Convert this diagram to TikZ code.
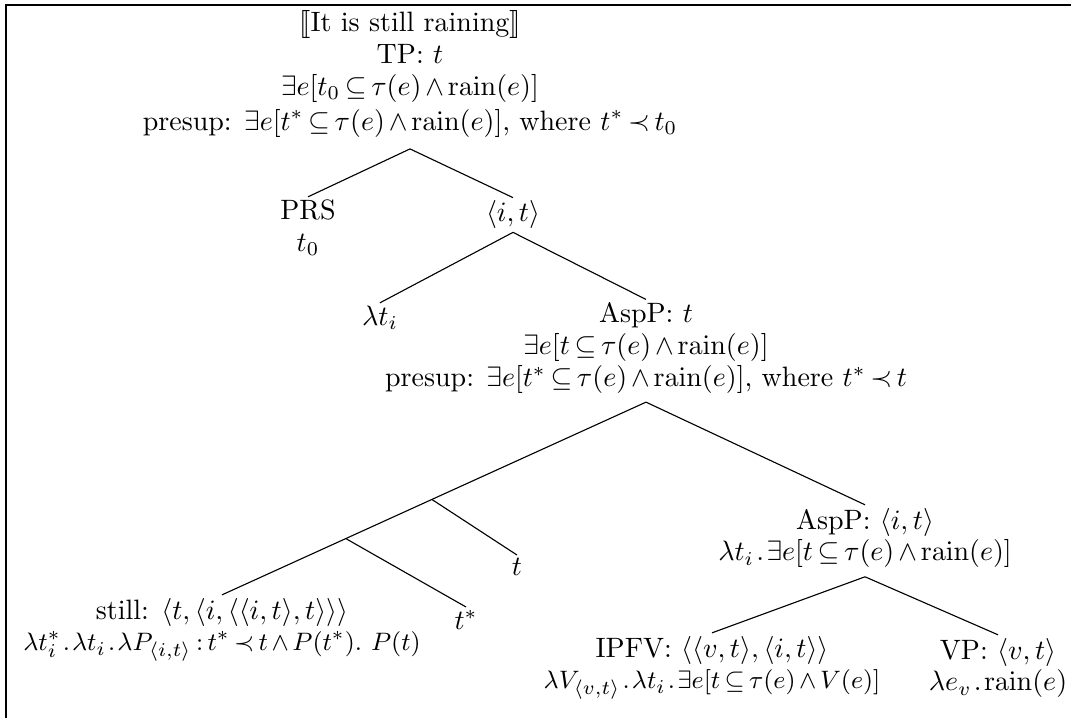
\documentclass[tikz,border=0pt]{standalone}
\usepackage{amsmath,amssymb}
\usepackage{stmaryrd}
\usetikzlibrary{positioning}

\newcommand{\treefont}{\fontsize{10}{11.3}\selectfont
  \thickmuskip=3mu plus 2mu\relax
  \medmuskip=2.5mu plus 1mu\relax}
\tikzset{
  lbl/.style={align=center, inner sep=1pt, font=\treefont},
  branch/.style={line width=0.4pt},
  frame/.style={line width=0.75pt}
}
\newcommand{\rain}{\mathrm{rain}}
\newcommand{\lamdot}{\mkern1.5mu.\mkern1.5mu}
\newcommand{\narrowline}{\fontsize{9.3}{11.3}\selectfont}

\begin{document}
\begin{tikzpicture}[x=0.357pt,y=-0.357pt]
\useasboundingbox (0,0) rectangle (1071,718);
\draw[frame] (6,718) -- (6,5) -- (1071,5);

% top of the tree
\node[lbl] (root) at (410,74) {$\llbracket$It is still raining$\rrbracket$\\
  TP: $t$\\
  $\exists e[t_0 \subseteq \tau(e) \wedge \rain(e)]$\\[1.2pt]
  presup: $\exists e[t^* \subseteq \tau(e) \wedge \rain(e)]$, where $t^* \prec t_0$};
\node[lbl] (prs) at (308,228) {PRS\\ $t_0$};
\node[lbl] (it) at (513,215) {$\langle i,t\rangle$};
\node[lbl] (lam) at (380,318) {$\lambda t_i$};
\node[lbl] (aspt) at (646,348) {AspP: $t$\\
  $\exists e[t \subseteq \tau(e) \wedge \rain(e)]$\\
  presup: $\exists e[t^* \subseteq \tau(e) \wedge \rain(e)]$, where $t^* \prec t$};

% left part
\node[lbl] (still) at (222,630) {still: $\langle t,\langle i,\langle\langle i,t\rangle,t\rangle\rangle\rangle$\\
  \narrowline $\lambda t^*_i\lamdot\lambda t_i\lamdot\lambda P_{\langle i,t\rangle} : t^* \prec t \wedge P(t^*).\ P(t)$};
\node[lbl] (tstar) at (466,620) {$t^*$};
\node[lbl] (tvar) at (517,567) {$t$};

% right part
\node[lbl] (aspit) at (865,538) {AspP: $\langle i,t\rangle$\\
  $\lambda t_i\lamdot\exists e[t \subseteq \tau(e) \wedge \rain(e)]$};
\node[lbl] (ipfv) at (712,668) {IPFV: $\langle\langle v,t\rangle,\langle i,t\rangle\rangle$\\
  \narrowline $\lambda V_{\langle v,t\rangle}\lamdot\lambda t_i\lamdot\exists e[t \subseteq \tau(e) \wedge V(e)]$};
\node[lbl] (vp) at (998,668) {VP: $\langle v,t\rangle$\\
  $\lambda e_v\lamdot\rain(e)$};

% branches
\draw[branch] ([yshift=-3pt]root.south) -- (prs.north);
\draw[branch] ([yshift=-3pt]root.south) -- (it.north);
\draw[branch] (it.south) -- (lam.north);
\draw[branch] (it.south) -- (aspt.north);
\draw[branch] ([yshift=-2pt]aspt.south) -- (still.north)
  coordinate[pos=0.505] (j1) coordinate[pos=0.708] (j2);
\draw[branch] (j1) -- (tvar.north);
\draw[branch] (j2) -- (tstar.north);
\draw[branch] ([yshift=-2pt]aspt.south) -- (aspit.north);
\draw[branch] ([yshift=-2pt]aspit.south) -- (ipfv.north);
\draw[branch] ([yshift=-2pt]aspit.south) -- (vp.north);
\end{tikzpicture}
\end{document}
